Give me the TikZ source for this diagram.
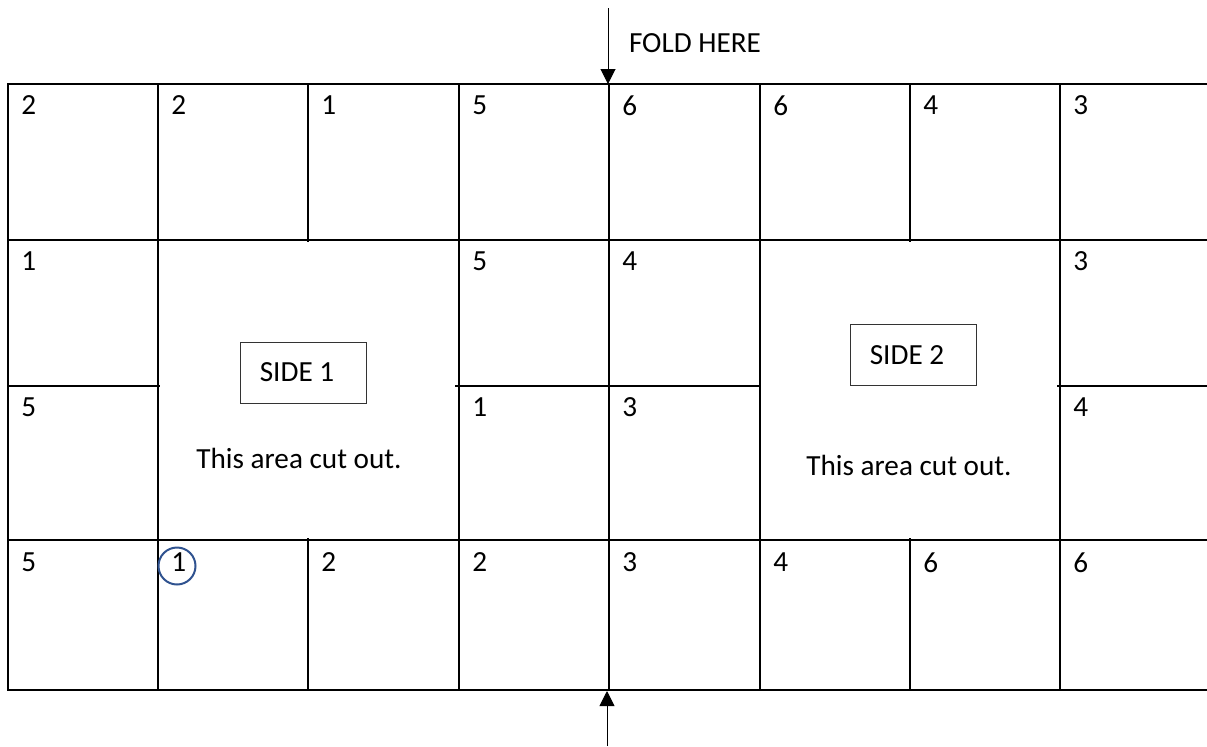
\documentclass[tikz,border=0pt]{standalone}
\usepackage{fontspec}
\setmainfont{Carlito}
\usepackage{xcolor}
\usetikzlibrary{arrows.meta, positioning}
\definecolor{ringblue}{HTML}{2F528F}

\begin{document}
\begin{tikzpicture}[
x=0.5pt, y=-0.5pt,
every node/.style={font=\fontsize{14.6}{17}\selectfont},
gridline/.style={line width=1.1pt, black},
numnode/.style={anchor=north west, inner sep=0pt},
sidenode/.style={rectangle, draw=black!80, line width=0.5pt,
minimum width=63pt, minimum height=30.5pt, inner sep=0pt},
cutnode/.style={align=center, inner sep=0pt},
ringnode/.style={circle, draw=ringblue, line width=1pt, minimum size=18.5pt, inner sep=0pt},
foldarrow/.style={-{Triangle[length=7.5pt, width=7.5pt]}, line width=0.5pt, black}
]

\useasboundingbox (0,0) rectangle (1207,746);

% frame and rows
\draw[gridline] (1207,84) -- (8,84) -- (8,690) -- (1207,690);
\draw[gridline] (8,240) -- (1207,240);
\draw[gridline] (8,540) -- (1207,540);
\draw[gridline] (8,386) -- (160,386);
\draw[gridline] (455,386) -- (760,386);
\draw[gridline] (1057,386) -- (1207,386);

% columns
\draw[gridline] (158,84) -- (158,690);
\draw[gridline] (308,84) -- (308,242);
\draw[gridline] (308,538) -- (308,690);
\draw[gridline] (459,84) -- (459,690);
\draw[gridline] (609,84) -- (609,690);
\draw[gridline] (760,84) -- (760,690);
\draw[gridline] (910,84) -- (910,242);
\draw[gridline] (910,538) -- (910,690);
\draw[gridline] (1060,84) -- (1060,690);

% top row
\node[numnode] (n11) at (21,95) {2};
\node[numnode] (n12) at (171,95) {2};
\node[numnode] (n13) at (321,95) {1};
\node[numnode] (n14) at (472,95) {5};
\node[numnode] (n15) at (622,95) {6};
\node[numnode] (n16) at (773,95) {6};
\node[numnode] (n17) at (923,95) {4};
\node[numnode] (n18) at (1073,95) {3};

% middle rows
\node[numnode] (n21) at (21,251) {1};
\node[numnode] (n24) at (472,251) {5};
\node[numnode] (n25) at (622,251) {4};
\node[numnode] (n28) at (1073,251) {3};
\node[numnode] (n31) at (21,397) {5};
\node[numnode] (n34) at (472,397) {1};
\node[numnode] (n35) at (622,397) {3};
\node[numnode] (n38) at (1073,397) {4};

% bottom row
\node[numnode] (n41) at (21,552) {5};
\node[numnode] (n42) at (171,552) {1};
\node[numnode] (n43) at (321,552) {2};
\node[numnode] (n44) at (472,552) {2};
\node[numnode] (n45) at (622,552) {3};
\node[numnode] (n46) at (773,552) {4};
\node[numnode] (n47) at (923,552) {6};
\node[numnode] (n48) at (1073,552) {6};
\node[ringnode] (ring) at (177,566) {};

% cut-out areas
\node[sidenode] (side1) at (303,372.5) {SIDE 1\hspace*{6pt}};
\node[cutnode] (cut1) at (299,458) {This area cut out.};
\node[sidenode] (side2) at (913,355) {SIDE 2\hspace*{6pt}};
\node[cutnode] (cut2) at (909,465) {This area cut out.};

% fold marks
\node[cutnode] (foldlabel) at (695,43) {FOLD HERE};
\coordinate (foldtopend) at (608,8);
\coordinate (foldtoptip) at (608,84);
\coordinate (foldbotend) at (607,746);
\coordinate (foldbottip) at (607,691);
\draw[foldarrow] (foldtopend) -- (foldtoptip);
\draw[foldarrow] (foldbotend) -- (foldbottip);

\end{tikzpicture}
\end{document}
